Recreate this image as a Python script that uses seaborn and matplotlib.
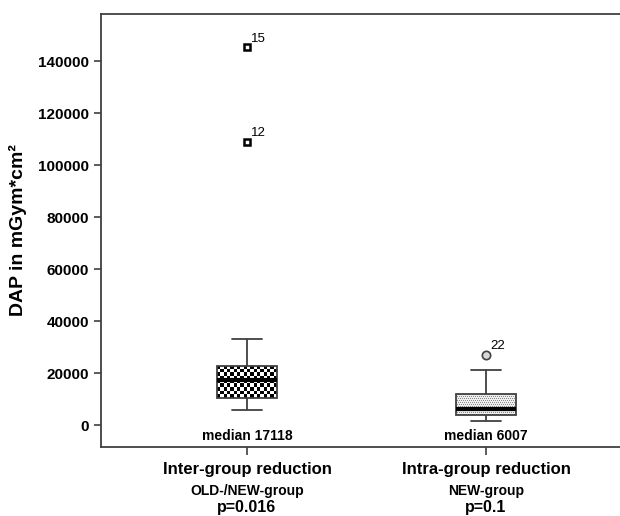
import numpy as np
import pandas as pd
import seaborn as sns
import matplotlib.pyplot as plt

# DATA (DAP in mGym*cm2)
groups = ['Inter-group reduction', 'Intra-group reduction']
sub_labels = ['OLD-/NEW-group', 'NEW-group']
p_values = ['p=0.016', 'p=0.1']
inter_vals = [5770, 7500, 9000, 10270, 13000, 15500, 17118, 19000, 21000, 22692, 32960, 108960, 145270]
intra_vals = [1650, 2500, 3200, 3970, 4800, 5500, 6007, 7500, 9000, 11923, 15000, 21150, 27040]
case_labels = [{108960: '12', 145270: '15'}, {27040: '22'}]
yticks = [0, 20000, 40000, 60000, 80000, 100000, 120000, 140000]

df = pd.DataFrame({'group': [groups[0]] * len(inter_vals) + [groups[1]] * len(intra_vals),
                   'dap': inter_vals + intra_vals})

sns.set_style('white')
plt.rcParams['font.family'] = ['Liberation Sans', 'DejaVu Sans']
plt.rcParams['text.color'] = 'black'
plt.rcParams['axes.labelcolor'] = 'black'
dark = '#404040'

fig = plt.figure(figsize=(6.2, 5.16), dpi=100)
ax = fig.add_axes([101 / 620, 1 - 447 / 516, 1 - 101 / 620, (447 - 14) / 516])

sns.boxplot(data=df, x='group', y='dap', order=groups, width=0.25, ax=ax,
            color='white', linecolor=dark, linewidth=1.3,
            medianprops=dict(color='black', linewidth=3),
            flierprops=dict(marker='o', markersize=6, markerfacecolor='#d8d8d8',
                            markeredgecolor=dark, markeredgewidth=1.2))

ax.set_xlim(-0.611, 1.561)
ax.set_ylim(-8460, 158077)

# fill patterns clipped to the boxes: checkers for box 1, dots for box 2
boxes, fliers = [], []
for c in ax.containers:
    boxes += list(getattr(c, 'boxes', []))
    fliers += list(getattr(c, 'fliers', []))

fig.canvas.draw()
for i, patch in enumerate(boxes):
    ext = patch.get_path().get_extents()
    p0 = ax.transData.transform((ext.x0, ext.y0))
    p1 = ax.transData.transform((ext.x1, ext.y1))
    wpx, hpx = abs(p1[0] - p0[0]), abs(p1[1] - p0[1])
    if i == 0:
        nx, ny = int(round(wpx / 3.4)), int(round(hpx / 3.4))
        img = (np.add.outer(np.arange(ny), np.arange(nx)) % 2).astype(float)
    else:
        nx, ny = int(round(wpx)), int(round(hpx))
        jj, ii = np.meshgrid(np.arange(nx), np.arange(ny))
        img = np.where((ii % 2 == 0) & ((jj + ii // 2) % 2 == 0), 0.55, 0.93)
    im = ax.imshow(img, extent=[ext.x0, ext.x1, ext.y0, ext.y1], aspect='auto',
                   interpolation='nearest', cmap='gray', vmin=0, vmax=1, zorder=1.5)
    im.set_clip_path(patch)
    patch.set_facecolor('none')
    patch.set_zorder(2)
for ln in ax.lines:
    ln.set_zorder(3)

ax.set_xlim(-0.611, 1.561)
ax.set_ylim(-8460, 158077)

# square markers for the extreme values of group 1
if fliers:
    fliers[0].set_marker('s')
    fliers[0].set_markersize(5)
    fliers[0].set_markerfacecolor('white')
    fliers[0].set_markeredgecolor('black')
    fliers[0].set_markeredgewidth(1.8)

# case numbers next to outliers
for i, labs in enumerate(case_labels):
    for val, lab in labs.items():
        ax.annotate(lab, xy=(i, val), xytext=(3, 2), textcoords='offset points',
                    ha='left', va='bottom', fontsize=9.5, color='black')

# medians and x labels
xtr = ax.get_xaxis_transform()
for i, vals in enumerate([inter_vals, intra_vals]):
    med = int(np.median(vals))
    ax.annotate(f'median {med}', xy=(i, 0), xycoords=xtr, xytext=(0, 8), textcoords='offset points',
                ha='center', va='center', fontsize=10, fontweight='bold')
    ax.annotate(groups[i], xy=(i, 0), xycoords=xtr, xytext=(0, -16), textcoords='offset points',
                ha='center', va='center', fontsize=12, fontweight='bold')
    ax.annotate(sub_labels[i], xy=(i, 0), xycoords=xtr, xytext=(0, -32), textcoords='offset points',
                ha='center', va='center', fontsize=10, fontweight='bold')
    ax.annotate(p_values[i], xy=(i, 0), xycoords=xtr, xytext=(0, -43.5), textcoords='offset points',
                ha='center', va='center', fontsize=11.5, fontweight='bold')

ax.set_xticks([0, 1])
ax.set_xticklabels(['', ''])
ax.set_xlabel('')
ax.set_yticks(yticks)
ax.set_yticklabels([str(t) for t in yticks], fontsize=11, fontweight='bold', color='black')
ax.set_ylabel('DAP in mGym*cm²', fontsize=14, fontweight='bold', labelpad=8)
ax.tick_params(axis='both', direction='out', length=5, width=1.2, color=dark, left=True, bottom=True)
ax.tick_params(axis='x', length=6)

for s in ['left', 'bottom', 'top']:
    ax.spines[s].set_color(dark)
    ax.spines[s].set_linewidth(1.3)
ax.spines['right'].set_visible(False)

fig.savefig('out.png', dpi=100)
